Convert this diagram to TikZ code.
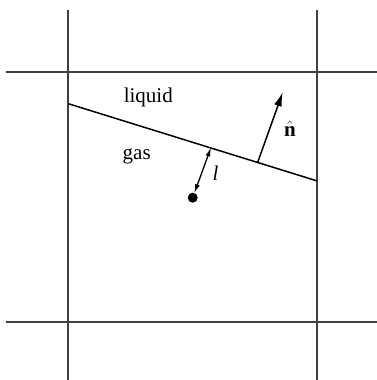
\documentclass[tikz,border=0pt]{standalone}
\usepackage{fontspec}
\setmainfont{Liberation Serif}
\usetikzlibrary{arrows.meta}
\begin{document}
\begin{tikzpicture}[x=1pt,y=-1pt,
  gridline/.style={line width=1.7pt, draw=black!75},
  iface/.style={line width=1.5pt},
  bigarrow/.style={line width=1.5pt,-{Latex[length=14pt,width=8pt]}},
  smallarrow/.style={line width=1.3pt,{Latex[length=9pt,width=5pt]}-{Latex[length=9pt,width=5pt]}},
  lbl/.style={font=\fontsize{21}{24}\selectfont, inner sep=0pt}]
\useasboundingbox (0,0) rectangle (377,380);
% grid
\coordinate (v1t) at (68.3,10); \coordinate (v1b) at (68.3,380);
\coordinate (v2t) at (317.3,10); \coordinate (v2b) at (317.3,380);
\coordinate (h1l) at (6,71.7); \coordinate (h1r) at (377,71.7);
\coordinate (h2l) at (6,321.7); \coordinate (h2r) at (377,321.7);
\draw[gridline] (v1t) -- (v1b);
\draw[gridline] (v2t) -- (v2b);
\draw[gridline] (h1l) -- (h1r);
\draw[gridline] (h2l) -- (h2r);
% interface
\coordinate (ia) at (68.3,103.7);
\coordinate (ib) at (317.3,181);
\draw[iface] (ia) -- (ib);
% normal
\coordinate (nfoot) at (257.7,162.3);
\coordinate (ntip) at (282.7,92.3);
\draw[bigarrow] (nfoot) -- (ntip);
\node[lbl] (nlab) at (290,129) {$\hat{\textbf{n}}$};
% dot and distance
\node[circle, fill=black, inner sep=0pt, minimum size=10pt] (dot) at (192.7,197.7) {};
\coordinate (lfoot) at (211,147.5);
\coordinate (dtop) at (194.3,193.2);
\draw[smallarrow] (dtop) -- (lfoot);
\node[lbl] (llab) at (215.5,173) {\textit{l}};
% labels
\node[lbl] (liq) at (148.3,97) {liquid};
\node[lbl] (gas) at (136.7,156) {gas};
\end{tikzpicture}
\end{document}
